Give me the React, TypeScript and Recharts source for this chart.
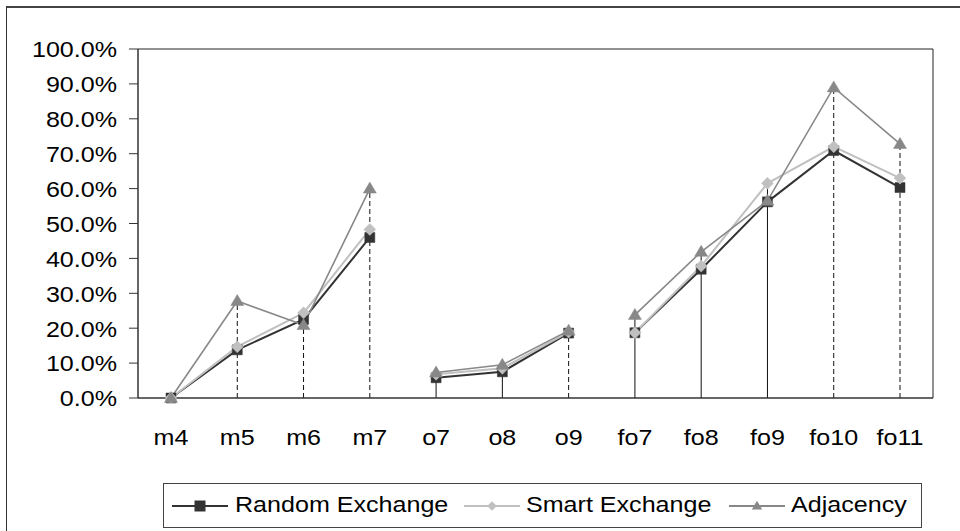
import React from 'react';
import { LineChart, Line, XAxis, YAxis, ReferenceLine } from 'recharts';

const categories = ['m4', 'm5', 'm6', 'm7', 'o7', 'o8', 'o9', 'fo7', 'fo8', 'fo9', 'fo10', 'fo11'];
const groupOf = ['m', 'm', 'm', 'm', 'o', 'o', 'o', 'fo', 'fo', 'fo', 'fo', 'fo'];
const groups = ['m', 'o', 'fo'];

const randomExchange = [0, 13.8, 22.5, 46.0, 5.8, 7.5, 18.6, 18.7, 36.9, 56.2, 70.9, 60.3];
const smartExchange = [0, 14.7, 24.4, 48.3, 6.8, 8.5, 18.9, 18.7, 37.8, 61.5, 72.0, 63.0];
const adjacency = [0, 27.8, 20.9, 60.0, 7.3, 9.5, 19.3, 23.8, 41.9, 56.5, 89.0, 72.8];

// which drop lines are dashed / solid
const dropStyle = ['none', 'dashed', 'dashed', 'dashed', 'solid', 'solid', 'dashed', 'solid', 'solid', 'solid', 'dashed', 'dashed'];

const yTicks = [0, 10, 20, 30, 40, 50, 60, 70, 80, 90, 100];

const series = [
  { key: 'random', name: 'Random Exchange', values: randomExchange, color: '#333333', width: 2, shape: 'square' },
  { key: 'smart', name: 'Smart Exchange', values: smartExchange, color: '#c0c0c0', width: 2, shape: 'diamond' },
  { key: 'adj', name: 'Adjacency', values: adjacency, color: '#888888', width: 1.6, shape: 'triangle' },
];

// one row per category, each series split by group so the line breaks between groups
const rows = categories.map((cat, i) => {
  const row: Record<string, any> = { cat };
  series.forEach((s) => {
    groups.forEach((g) => {
      row[`${s.key}_${g}`] = groupOf[i] === g ? s.values[i] : null;
    });
  });
  return row;
});

const FONT = '"Liberation Sans", Arial, sans-serif';
const SX = 1.14;

const markerPath = (shape: string, cx: number, cy: number, k = 1) => {
  if (shape === 'square') {
    const h = 5 * k;
    return `M${cx - h},${cy - h}h${2 * h}v${2 * h}h${-2 * h}Z`;
  }
  if (shape === 'diamond') {
    const h = 6 * k;
    return `M${cx},${cy - h}L${cx + h},${cy}L${cx},${cy + h}L${cx - h},${cy}Z`;
  }
  const w = 6.5 * k;
  return `M${cx},${cy - 6.5 * k}L${cx + w},${cy + 4.5 * k}L${cx - w},${cy + 4.5 * k}Z`;
};

const makeDot = (shape: string, color: string) => (props: any) => {
  const { cx, cy, index, value } = props;
  if (cx == null || cy == null || value == null) return null;
  return <path key={`${shape}-${index}`} d={markerPath(shape, cx, cy)} fill={color} stroke={color} strokeWidth={0.5} />;
};

const YTick = (props: any) => {
  const { x, y, payload } = props;
  return (
    <text transform={`translate(${x},${y}) scale(${SX},1)`} textAnchor="end" dy="0.38em" fontSize={22} fontFamily={FONT} fill="#000">
      {`${payload.value.toFixed(1)}%`}
    </text>
  );
};

const XTick = (props: any) => {
  const { x, y, payload } = props;
  return (
    <text transform={`translate(${x},${y}) scale(${SX},1)`} textAnchor="middle" dy="0.71em" fontSize={22} fontFamily={FONT} fill="#000">
      {payload.value}
    </text>
  );
};

const legendPos = [
  { icon: 8, text: 71 },
  { icon: 300, text: 362 },
  { icon: 565, text: 627 },
];

const ChartLegend = () => (
  <div
    style={{
      position: 'absolute', left: 163, top: 483, width: 759, height: 45,
      border: '1px solid #444', boxSizing: 'border-box', background: '#fff',
    }}
  >
    {series.map((s, i) => (
      <React.Fragment key={s.key}>
        <svg width={56} height={16} style={{ position: 'absolute', left: legendPos[i].icon, top: 14 }}>
          <line x1={0} y1={8} x2={56} y2={8} stroke={s.color} strokeWidth={2} />
          <path d={markerPath(s.shape, 28, 8, s.shape === 'square' ? 1.1 : 0.8)} fill={s.color} />
        </svg>
        <span
          style={{
            position: 'absolute', left: legendPos[i].text, top: 8, fontFamily: FONT, fontSize: 22,
            lineHeight: '26px', whiteSpace: 'nowrap', transform: `scaleX(${SX})`, transformOrigin: 'left center',
          }}
        >
          {s.name}
        </span>
      </React.Fragment>
    ))}
  </div>
);

export default function App() {
  return (
    <div style={{ position: 'absolute', left: 0, top: 0, width: 960, height: 531, overflow: 'hidden', background: '#fff' }}>
      <div
        style={{
          position: 'absolute', left: 6, top: 6, width: 1000, height: 600,
          borderTop: '2px solid #444', borderLeft: '1.5px solid #333',
        }}
      />
      <div style={{ position: 'absolute', left: 0, top: 0 }}>
        <LineChart width={960} height={531} data={rows} margin={{ top: 48, right: 26, bottom: 93, left: 0 }}>
          <XAxis
            dataKey="cat"
            height={40}
            padding={{ left: 33, right: 33 }}
            tickLine={false}
            tickSize={0}
            tickMargin={31}
            axisLine={{ stroke: '#333', strokeWidth: 1.5 }}
            tick={<XTick />}
            interval={0}
          />
          <XAxis
            xAxisId="top"
            dataKey="cat"
            orientation="top"
            height={1}
            padding={{ left: 33, right: 33 }}
            tick={false}
            tickLine={false}
            axisLine={{ stroke: '#222', strokeWidth: 1 }}
          />
          <YAxis
            width={138}
            domain={[0, 100]}
            ticks={yTicks}
            interval={0}
            tickSize={9}
            tickMargin={12}
            tickLine={{ stroke: '#333' }}
            axisLine={{ stroke: '#333', strokeWidth: 1.5 }}
            tick={<YTick />}
          />
          <YAxis
            yAxisId="right"
            orientation="right"
            width={1}
            domain={[0, 100]}
            ticks={yTicks}
            tick={false}
            tickLine={false}
            axisLine={{ stroke: '#222', strokeWidth: 1 }}
          />
          {categories.map((cat, i) => {
            if (dropStyle[i] === 'none') return null;
            const top = Math.max(randomExchange[i], smartExchange[i], adjacency[i]);
            return (
              <ReferenceLine
                key={`drop-${cat}`}
                segment={[{ x: cat, y: 0 }, { x: cat, y: top }]}
                stroke="#111"
                strokeWidth={1}
                strokeDasharray={dropStyle[i] === 'dashed' ? '5 3' : undefined}
              />
            );
          })}
          {series.map((s) =>
            groups.map((g) => (
              <Line
                key={`${s.key}_${g}`}
                dataKey={`${s.key}_${g}`}
                name={s.name}
                stroke={s.color}
                strokeWidth={s.width}
                dot={makeDot(s.shape, s.color)}
                activeDot={false}
                legendType="none"
                connectNulls={false}
                isAnimationActive={false}
              />
            ))
          )}
        </LineChart>
      </div>
      <ChartLegend />
    </div>
  );
}
